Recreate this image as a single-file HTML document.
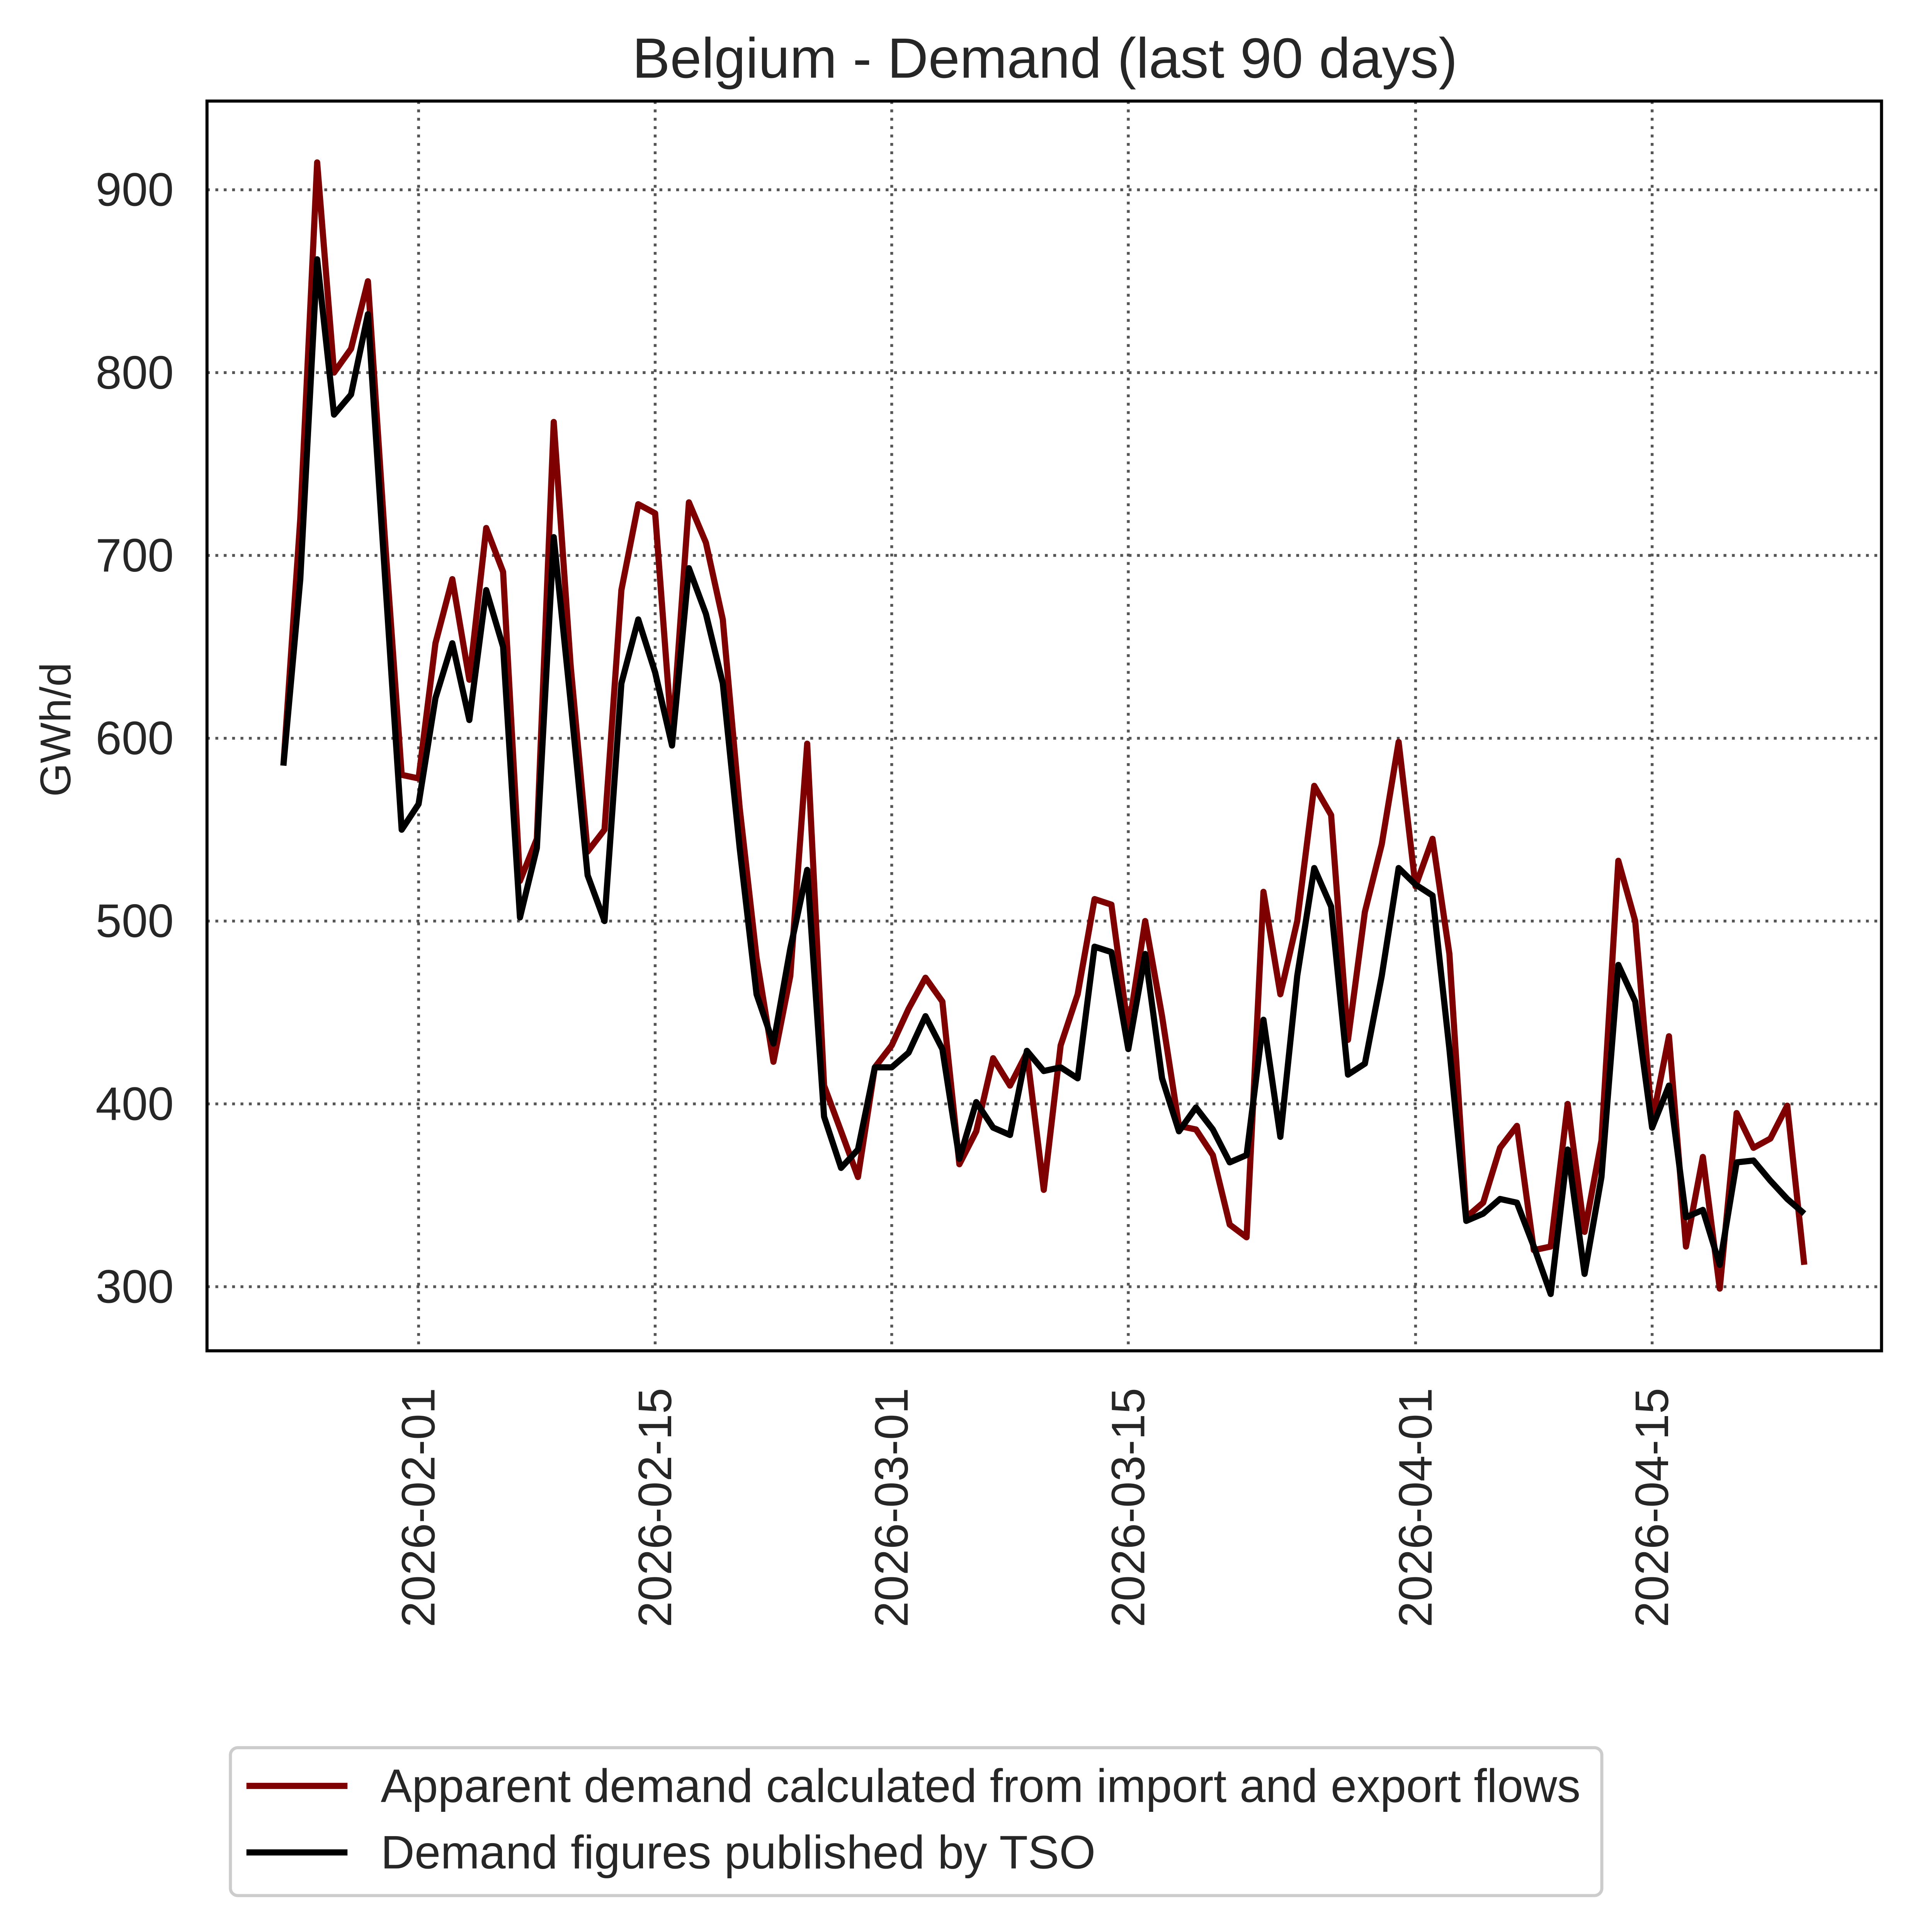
<!DOCTYPE html>
<html><head><meta charset="utf-8"><style>
html,body{margin:0;padding:0;background:#fff;overflow:hidden;width:5672px;height:5721px;}
svg{display:block;}
text{font-family:"Liberation Sans",Arial,sans-serif;fill:#262626;}
</style></head><body>
<svg id="chart" width="5672" height="5721" viewBox="0 0 1778.7 1793.6" preserveAspectRatio="none" xmlns="http://www.w3.org/2000/svg">
<rect x="0" y="0" width="1778.7" height="1793.6" fill="#fff"/>
<text x="848" y="63" font-size="46" text-anchor="middle">Belgium - Demand (last 90 days)</text>
<g id="grid"></g>
<g id="ticks"></g>
<g id="series"></g>
<rect x="168" y="82" width="1359" height="1014" fill="none" stroke="#000" stroke-width="2.5"/>
<text transform="translate(57,592) rotate(-90)" font-size="35" text-anchor="middle">GWh/d</text>
<g>
<rect x="187" y="1418" width="1113" height="120" rx="6" fill="#fff" stroke="#ccc" stroke-width="2.5"/>
<line x1="200" y1="1449" x2="282" y2="1449" stroke="#7f0000" stroke-width="5"/>
<text x="309" y="1462" font-size="38">Apparent demand calculated from import and export flows</text>
<line x1="200" y1="1503" x2="282" y2="1503" stroke="#000" stroke-width="5"/>
<text x="309" y="1516" font-size="38">Demand figures published by TSO</text>
</g>
</svg>
<script>
const yTicks = [300,400,500,600,700,800,900];
const xTickLabels = ["2026-02-01","2026-02-15","2026-03-01","2026-03-15","2026-04-01","2026-04-15"];
const xTickDays = [8,22,36,50,67,81];
const apparentDemand = [585,720,915,800,813,850,710,580,578,652,687,632,715,691,522,545,773,640,538,550,681,728,723,600,729,707,665,562,480,423,470,597,410,385,360,420,432,452,469,456,367,385,425,410,428,353,432,460,512,509,440,500,448,388,386,372,334,327,516,460,500,574,558,435,505,542,598,519,545,482,338,346,376,388,320,322,400,330,380,533,500,390,437,322,371,299,395,376,381,399,312];
const tsoDemand = [585,687,862,777,788,832,690,550,564,622,652,610,681,650,502,540,710,620,525,500,630,665,636,596,693,668,630,540,460,433,485,528,393,365,375,420,420,428,448,430,370,401,387,383,429,418,420,414,486,483,430,482,414,385,398,386,368,372,446,382,470,529,508,416,422,470,529,520,514,430,336,340,348,346,322,296,375,307,360,476,456,387,410,338,342,312,368,369,358,348,340];

const NS="http://www.w3.org/2000/svg";
const xScale = d => 230 + d*13.714;
const yScale = v => 154 + (900 - v)*1.48333;
const grid=document.getElementById('grid'), ticks=document.getElementById('ticks'), series=document.getElementById('series');

yTicks.forEach(v=>{
  const l=document.createElementNS(NS,'line');
  
  
  l.setAttribute('x1',168);l.setAttribute('x2',1527);
  l.setAttribute('y1',yScale(v));l.setAttribute('y2',yScale(v));
  l.setAttribute('stroke','#555');l.setAttribute('stroke-width','2.3');l.setAttribute('stroke-dasharray','2.3,4.5');
  grid.appendChild(l);
  const t=document.createElementNS(NS,'text');
  
  
  t.setAttribute('x',141);t.setAttribute('y',yScale(v)+13);
  t.setAttribute('font-size','38');t.setAttribute('text-anchor','end');
  t.textContent=v;ticks.appendChild(t);
});
xTickDays.forEach((d,i)=>{
  const x=xScale(d);
  const l=document.createElementNS(NS,'line');
  
  
  l.setAttribute('x1',x);l.setAttribute('x2',x);l.setAttribute('y1',82);l.setAttribute('y2',1096);
  l.setAttribute('stroke','#555');l.setAttribute('stroke-width','2.3');l.setAttribute('stroke-dasharray','2.3,4.5');
  grid.appendChild(l);
  const t=document.createElementNS(NS,'text');
  
  
  t.setAttribute('transform','translate('+(x+13)+',1126) rotate(-90)');
  t.setAttribute('font-size','38');t.setAttribute('text-anchor','end');
  t.textContent=xTickLabels[i];ticks.appendChild(t);
});
function drawLine(vals,color,name){
  const p=document.createElementNS(NS,'polyline');
  
  
  p.setAttribute('points',vals.map((v,i)=>xScale(i).toFixed(1)+','+yScale(v).toFixed(1)).join(' '));
  p.setAttribute('fill','none');p.setAttribute('stroke',color);p.setAttribute('stroke-width','5');
  p.setAttribute('stroke-linejoin','round');
  series.appendChild(p);
}
drawLine(apparentDemand,'#7f0000','apparent-demand-line');
drawLine(tsoDemand,'#000','tso-demand-line');
</script>
</body></html>
